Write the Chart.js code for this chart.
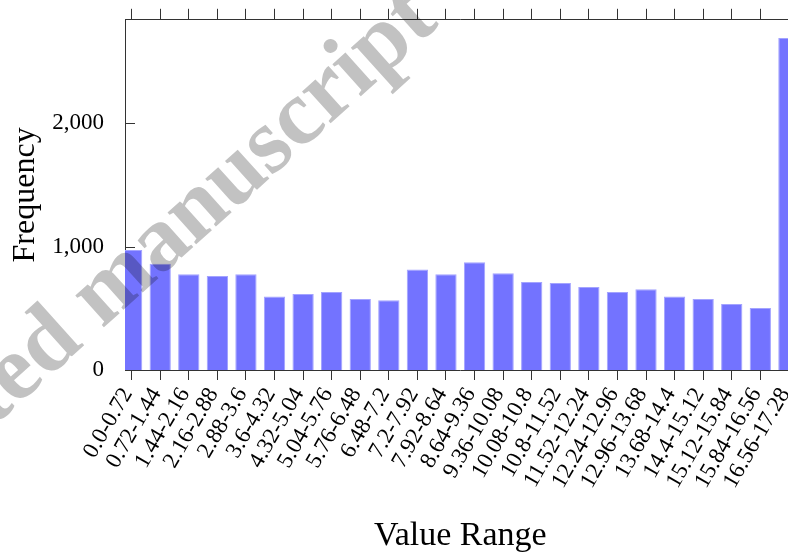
<!DOCTYPE html>
<html><head><meta charset="utf-8">
<script src="https://cdn.jsdelivr.net/npm/chart.js@4.4.1/dist/chart.umd.min.js"></script>
<style>
html,body{margin:0;padding:0;background:#fff;overflow:hidden;width:788px;height:554px;position:relative;}
canvas{position:absolute;left:0;top:0;}
</style></head><body>
<script>
const categories = ['0.0-0.72','0.72-1.44','1.44-2.16','2.16-2.88','2.88-3.6','3.6-4.32','4.32-5.04','5.04-5.76','5.76-6.48','6.48-7.2','7.2-7.92','7.92-8.64','8.64-9.36','9.36-10.08','10.08-10.8','10.8-11.52','11.52-12.24','12.24-12.96','12.96-13.68','13.68-14.4','14.4-15.12','15.12-15.84','15.84-16.56','16.56-17.28'];
const frequencies = [973, 862, 776, 762, 776, 595, 616, 633, 576, 565, 814, 776, 873, 784, 714, 705, 673, 633, 654, 595, 576, 535, 503, 2690];
const yTickValues = [0, 1000, 2000];
const yTickLabels = ['0', '1,000', '2,000'];
const xTitle = 'Value Range';
const yTitle = 'Frequency';
const watermarkText = 'Accepted manuscript';

const SERIF = '"Liberation Serif", "Times New Roman", serif';
const AXIS = '#333333';
const PLOT = { left: 125, top: 20, right: 796, bottom: 370 };

const points = frequencies.map((v, i) => ({ x: i, y: v }));

const innerYTicks = {
  id: 'innerYTicks',
  afterDatasetsDraw(chart) {
    const { ctx, chartArea } = chart;
    const y = chart.scales.y;
    ctx.save();
    ctx.strokeStyle = AXIS;
    ctx.lineWidth = 1;
    yTickValues.forEach(v => {
      const py = Math.round(y.getPixelForValue(v)) + 0.5;
      ctx.beginPath();
      ctx.moveTo(chartArea.left, py);
      ctx.lineTo(chartArea.left + 10, py);
      ctx.stroke();
    });
    ctx.restore();
  }
};

const watermark = {
  id: 'watermark',
  afterDraw(chart) {
    const { ctx, chartArea } = chart;
    const offX = PLOT.left - chartArea.left;
    const offY = PLOT.top - chartArea.top;
    ctx.save();
    ctx.globalCompositeOperation = 'multiply';
    ctx.translate(440 - offX, 25 - offY);
    ctx.rotate(-42 * Math.PI / 180);
    ctx.font = 'bold 93px ' + SERIF;
    ctx.fillStyle = '#c2c2c2';
    ctx.textAlign = 'right';
    ctx.textBaseline = 'alphabetic';
    ctx.fillText(watermarkText, 0, 0);
    ctx.restore();
  }
};

function makeConfig() {
  return {
    type: 'bar',
    data: {
      datasets: [{
        data: points,
        backgroundColor: '#7373ff',
        borderColor: '#a3a3ff',
        borderWidth: 1,
        categoryPercentage: 1,
        barPercentage: 0.745
      }]
    },
    options: {
      responsive: false,
      maintainAspectRatio: false,
      animation: false,
      devicePixelRatio: 1,
      layout: { padding: 0 },
      plugins: { legend: { display: false }, tooltip: { enabled: false } },
      scales: {
        x: {
          type: 'linear',
          position: 'bottom',
          offset: false,
          min: -0.232,
          max: 23.232,
          afterBuildTicks: s => { s.ticks = categories.map((_, i) => ({ value: i })); },
          afterFit: s => { s.height = 184; },
          grid: { display: true, offset: false, drawOnChartArea: false, drawTicks: true, tickLength: 10, color: AXIS, lineWidth: 1 },
          border: { display: true, color: AXIS, width: 1 },
          ticks: {
            autoSkip: false,
            minRotation: 60,
            maxRotation: 60,
            padding: 3,
            labelOffset: -4,
            color: '#000',
            font: { family: SERIF, size: 23 },
            callback: (v, i) => categories[i]
          },
          title: { display: true, text: xTitle, color: '#000', font: { family: SERIF, size: 34, lineHeight: 1 }, padding: { top: 0, bottom: 1 } }
        },
        x2: {
          type: 'linear',
          position: 'top',
          offset: false,
          min: -0.232,
          max: 23.232,
          afterBuildTicks: s => { s.ticks = categories.map((_, i) => ({ value: i })); },
          afterFit: s => { s.height = 20; },
          grid: { display: true, offset: false, drawOnChartArea: false, drawTicks: true, tickLength: 11, color: AXIS, lineWidth: 1 },
          border: { display: true, color: AXIS, width: 1 },
          ticks: { display: false }
        },
        y: {
          type: 'linear',
          position: 'left',
          min: 0,
          max: 2838,
          afterBuildTicks: s => { s.ticks = yTickValues.map(v => ({ value: v })); },
          afterFit: s => { s.width = 125; },
          grid: { display: false },
          border: { display: true, color: AXIS, width: 1 },
          ticks: {
            padding: 13,
            color: '#000',
            font: { family: SERIF, size: 23 },
            callback: (v, i) => yTickLabels[i]
          },
          title: { display: true, text: yTitle, color: '#000', font: { family: SERIF, size: 32, lineHeight: 1 }, padding: { top: 10, bottom: 0 } }
        }
      }
    },
    plugins: [innerYTicks, watermark]
  };
}

function build(w, h) {
  const cv = document.createElement('canvas');
  cv.width = w; cv.height = h;
  cv.style.width = w + 'px'; cv.style.height = h + 'px';
  document.body.appendChild(cv);
  return { cv, chart: new Chart(cv, makeConfig()) };
}

// build once to measure the layout, then rebuild so the plot box lands on PLOT
let W = 840, H = 562;
let built = build(W, H);
let a = built.chart.chartArea;
const W2 = Math.round(W + (PLOT.right - PLOT.left) - (a.right - a.left));
const H2 = Math.round(H + (PLOT.bottom - PLOT.top) - (a.bottom - a.top));
built.chart.destroy();
built.cv.remove();
built = build(W2, H2);
a = built.chart.chartArea;
built.cv.style.left = (PLOT.left - a.left) + 'px';
built.cv.style.top = (PLOT.top - a.top) + 'px';
</script>
</body></html>
